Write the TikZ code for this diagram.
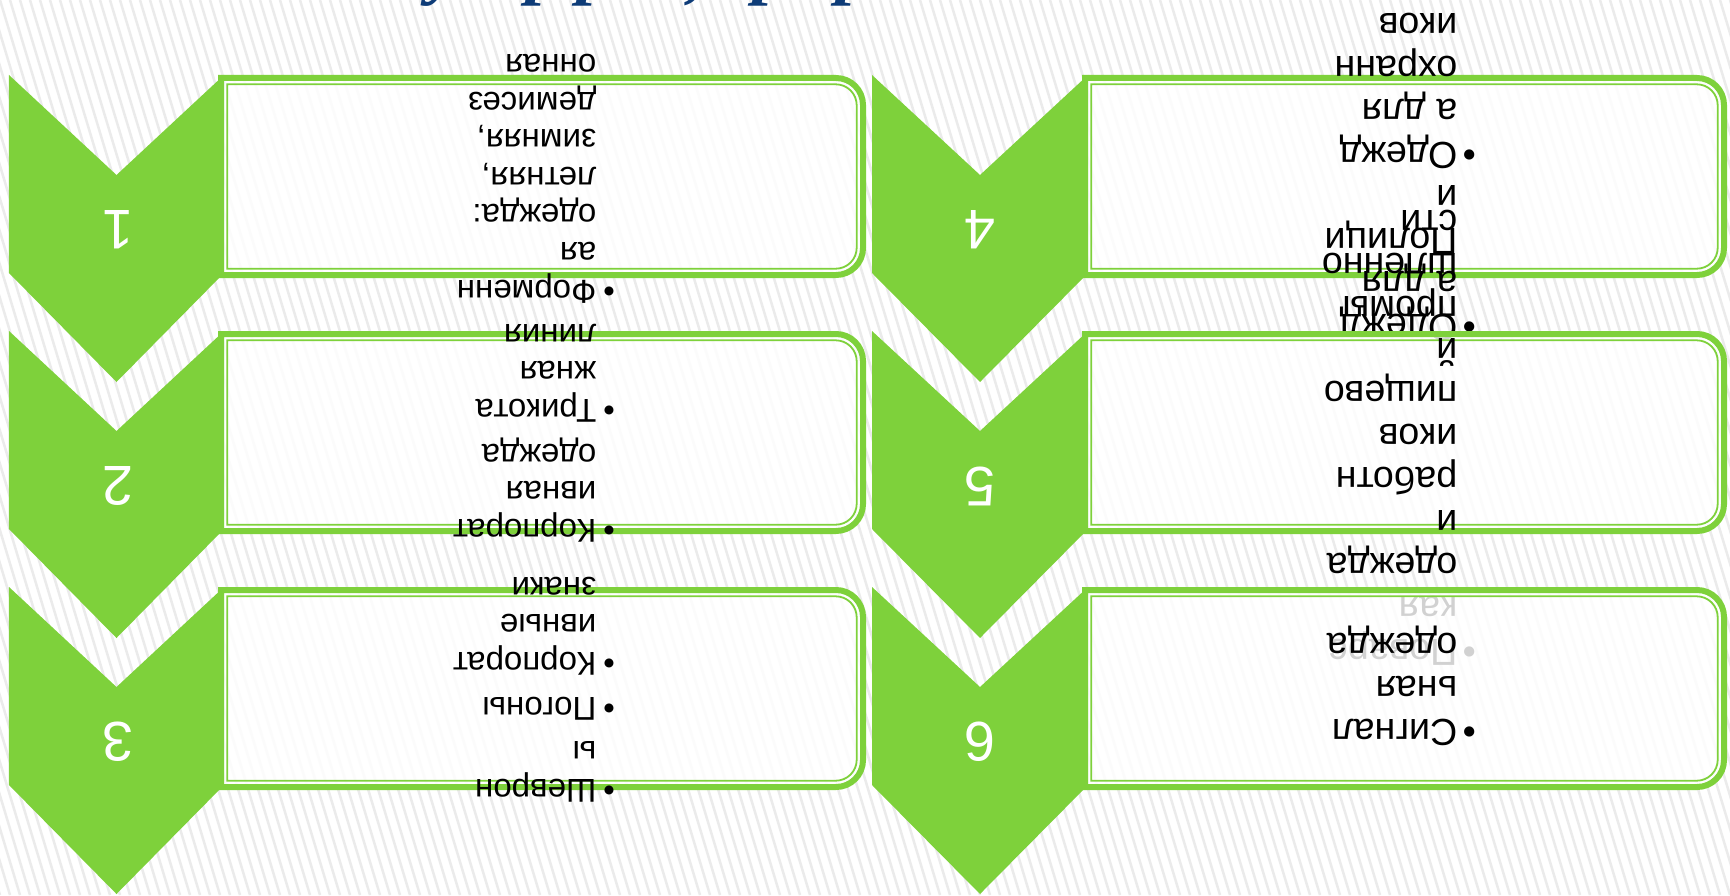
\documentclass[tikz,border=0pt]{standalone}
\usepackage{fontspec}
\setmainfont{Liberation Sans}
\newfontfamily\titlefont{Liberation Serif}
\usepackage{xcolor}
\usetikzlibrary{positioning}
\definecolor{cgreen}{RGB}{126,209,59}
\definecolor{cnavy}{RGB}{14,60,120}
\tikzstyle{bgline} = [draw=black!8, line width=0.025cm]
\tikzstyle{titlebit} = [anchor=south, inner sep=0, text=cnavy, font=\titlefont\bfseries\itshape\fontsize{21}{25}\selectfont]
\tikzstyle{chevron} = [fill=cgreen]
\tikzstyle{boxouter} = [draw=cgreen, line width=0.06cm, fill=white, fill opacity=0.82]
\tikzstyle{boxinner} = [draw=cgreen, line width=0.018cm]
\tikzstyle{num} = [rotate=180, inner sep=0, text=white, font=\fontsize{15.9}{18}\selectfont]
\tikzstyle{leftitems} = [rotate=180, anchor=west, inner sep=0, align=left, font=\fontsize{9.4}{10.7}\selectfont]
\tikzstyle{rightitems} = [rotate=180, anchor=west, inner sep=0, align=left, font=\fontsize{10.7}{12.2}\selectfont]

\begin{document}
\begin{tikzpicture}
        \useasboundingbox (0,0) rectangle (17.30,-8.95);
        \clip (0,0) rectangle (17.30,-8.95);
        \fill[white] (0,0) rectangle (17.30,-8.95);
        \foreach \i in {-28,...,174}
            \draw[bgline] (\i/10,0) -- ++(2.7,-8.95);

        % title, only the bottom of it is on the page
        \node (ttl1) [titlebit] at (4.45,-0.07) {у};
        \node (ttl2) [titlebit] at (5.45,-0.07) {р};
        \node (ttl3) [titlebit] at (5.96,-0.07) {р};
        \node (ttl4) [titlebit] at (6.96,-0.07) {,};
        \node (ttl5) [titlebit] at (7.72,-0.07) {р};
        \node (ttl6) [titlebit] at (8.55,-0.07) {р};

        % left column
        \fill[chevron] (0.09,-0.75) -- (1.165,-1.75) -- (2.24,-0.75) -- (2.24,-2.73) -- (1.165,-3.82) -- (0.09,-2.73) -- cycle;
        \draw[boxouter] (2.21,-0.78) -- (8.36,-0.78) arc[start angle=90, end angle=0, radius=0.27] -- (8.63,-2.48) arc[start angle=0, end angle=-90, radius=0.27] -- (2.21,-2.75) -- cycle;
        \draw[boxinner] (2.273,-0.843) -- (8.357,-0.843) arc[start angle=90, end angle=0, radius=0.21] -- (8.567,-2.477) arc[start angle=0, end angle=-90, radius=0.21] -- (2.273,-2.687) -- cycle;
        \node (num1) [num] at (1.18,-2.30) {1};
        \node (items1) [leftitems] at (5.97,-1.785) {\llap{•\kern0.07cm}Форменн\\ая\\одежда:\\летняя,\\зимняя,\\демисез\\онная};

        \fill[chevron] (0.09,-3.31) -- (1.165,-4.31) -- (2.24,-3.31) -- (2.24,-5.29) -- (1.165,-6.38) -- (0.09,-5.29) -- cycle;
        \draw[boxouter] (2.21,-3.34) -- (8.36,-3.34) arc[start angle=90, end angle=0, radius=0.27] -- (8.63,-5.04) arc[start angle=0, end angle=-90, radius=0.27] -- (2.21,-5.31) -- cycle;
        \draw[boxinner] (2.273,-3.403) -- (8.357,-3.403) arc[start angle=90, end angle=0, radius=0.21] -- (8.567,-5.037) arc[start angle=0, end angle=-90, radius=0.21] -- (2.273,-5.247) -- cycle;
        \node (num2) [num] at (1.18,-4.86) {2};
        \node (items2) [leftitems] at (5.97,-4.33) {\llap{•\kern0.07cm}Корпорат\\ивная\\одежда\\[0.07cm]\llap{•\kern0.07cm}Трикота\\жная\\линия};

        \fill[chevron] (0.09,-5.87) -- (1.165,-6.87) -- (2.24,-5.87) -- (2.24,-7.85) -- (1.165,-8.94) -- (0.09,-7.85) -- cycle;
        \draw[boxouter] (2.21,-5.90) -- (8.36,-5.90) arc[start angle=90, end angle=0, radius=0.27] -- (8.63,-7.60) arc[start angle=0, end angle=-90, radius=0.27] -- (2.21,-7.87) -- cycle;
        \draw[boxinner] (2.273,-5.963) -- (8.357,-5.963) arc[start angle=90, end angle=0, radius=0.21] -- (8.567,-7.597) arc[start angle=0, end angle=-90, radius=0.21] -- (2.273,-7.807) -- cycle;
        \node (num3) [num] at (1.18,-7.42) {3};
        \node (items3) [leftitems] at (5.97,-6.895) {\llap{•\kern0.07cm}Шеврон\\ы\\[0.07cm]\llap{•\kern0.07cm}Погоны\\[0.07cm]\llap{•\kern0.07cm}Корпорат\\ивные\\знаки};

        % right column
        \fill[chevron] (8.72,-0.75) -- (9.80,-1.75) -- (10.88,-0.75) -- (10.88,-2.73) -- (9.80,-3.82) -- (8.72,-2.73) -- cycle;
        \draw[boxouter] (10.85,-0.78) -- (16.97,-0.78) arc[start angle=90, end angle=0, radius=0.27] -- (17.24,-2.48) arc[start angle=0, end angle=-90, radius=0.27] -- (10.85,-2.75) -- cycle;
        \draw[boxinner] (10.913,-0.843) -- (16.967,-0.843) arc[start angle=90, end angle=0, radius=0.21] -- (17.177,-2.477) arc[start angle=0, end angle=-90, radius=0.21] -- (10.913,-2.687) -- cycle;
        \node (num4) [num] at (9.80,-2.30) {4};
        \node (items4) [rightitems] at (14.58,-1.77) {\llap{•\kern0.055cm}Одежд\\а для\\Полици\\и\\\llap{•\kern0.055cm}Одежд\\а для\\охранн\\иков};

        \fill[chevron] (8.72,-3.31) -- (9.80,-4.31) -- (10.88,-3.31) -- (10.88,-5.29) -- (9.80,-6.38) -- (8.72,-5.29) -- cycle;
        \draw[boxouter] (10.85,-3.34) -- (16.97,-3.34) arc[start angle=90, end angle=0, radius=0.27] -- (17.24,-5.04) arc[start angle=0, end angle=-90, radius=0.27] -- (10.85,-5.31) -- cycle;
        \draw[boxinner] (10.913,-3.403) -- (16.967,-3.403) arc[start angle=90, end angle=0, radius=0.21] -- (17.177,-5.037) arc[start angle=0, end angle=-90, radius=0.21] -- (10.913,-5.247) -- cycle;
        \node (num5) [num] at (9.80,-4.86) {5};
        \node (items5) [rightitems] at (14.58,-4.375) {\llap{•\kern0.055cm}Поварс\\кая\\одежда\\и\\работн\\иков\\пищево\\й\\промы\\шленно\\сти};

        \fill[chevron] (8.72,-5.87) -- (9.80,-6.87) -- (10.88,-5.87) -- (10.88,-7.85) -- (9.80,-8.94) -- (8.72,-7.85) -- cycle;
        \draw[boxouter] (10.85,-5.90) -- (16.97,-5.90) arc[start angle=90, end angle=0, radius=0.27] -- (17.24,-7.60) arc[start angle=0, end angle=-90, radius=0.27] -- (10.85,-7.87) -- cycle;
        \draw[boxinner] (10.913,-5.963) -- (16.967,-5.963) arc[start angle=90, end angle=0, radius=0.21] -- (17.177,-7.597) arc[start angle=0, end angle=-90, radius=0.21] -- (10.913,-7.807) -- cycle;
        \node (num6) [num] at (9.80,-7.42) {6};
        \node (items6) [rightitems] at (14.58,-6.86) {\llap{•\kern0.055cm}Сигнал\\ьная\\одежда};

\end{tikzpicture}
\end{document}
